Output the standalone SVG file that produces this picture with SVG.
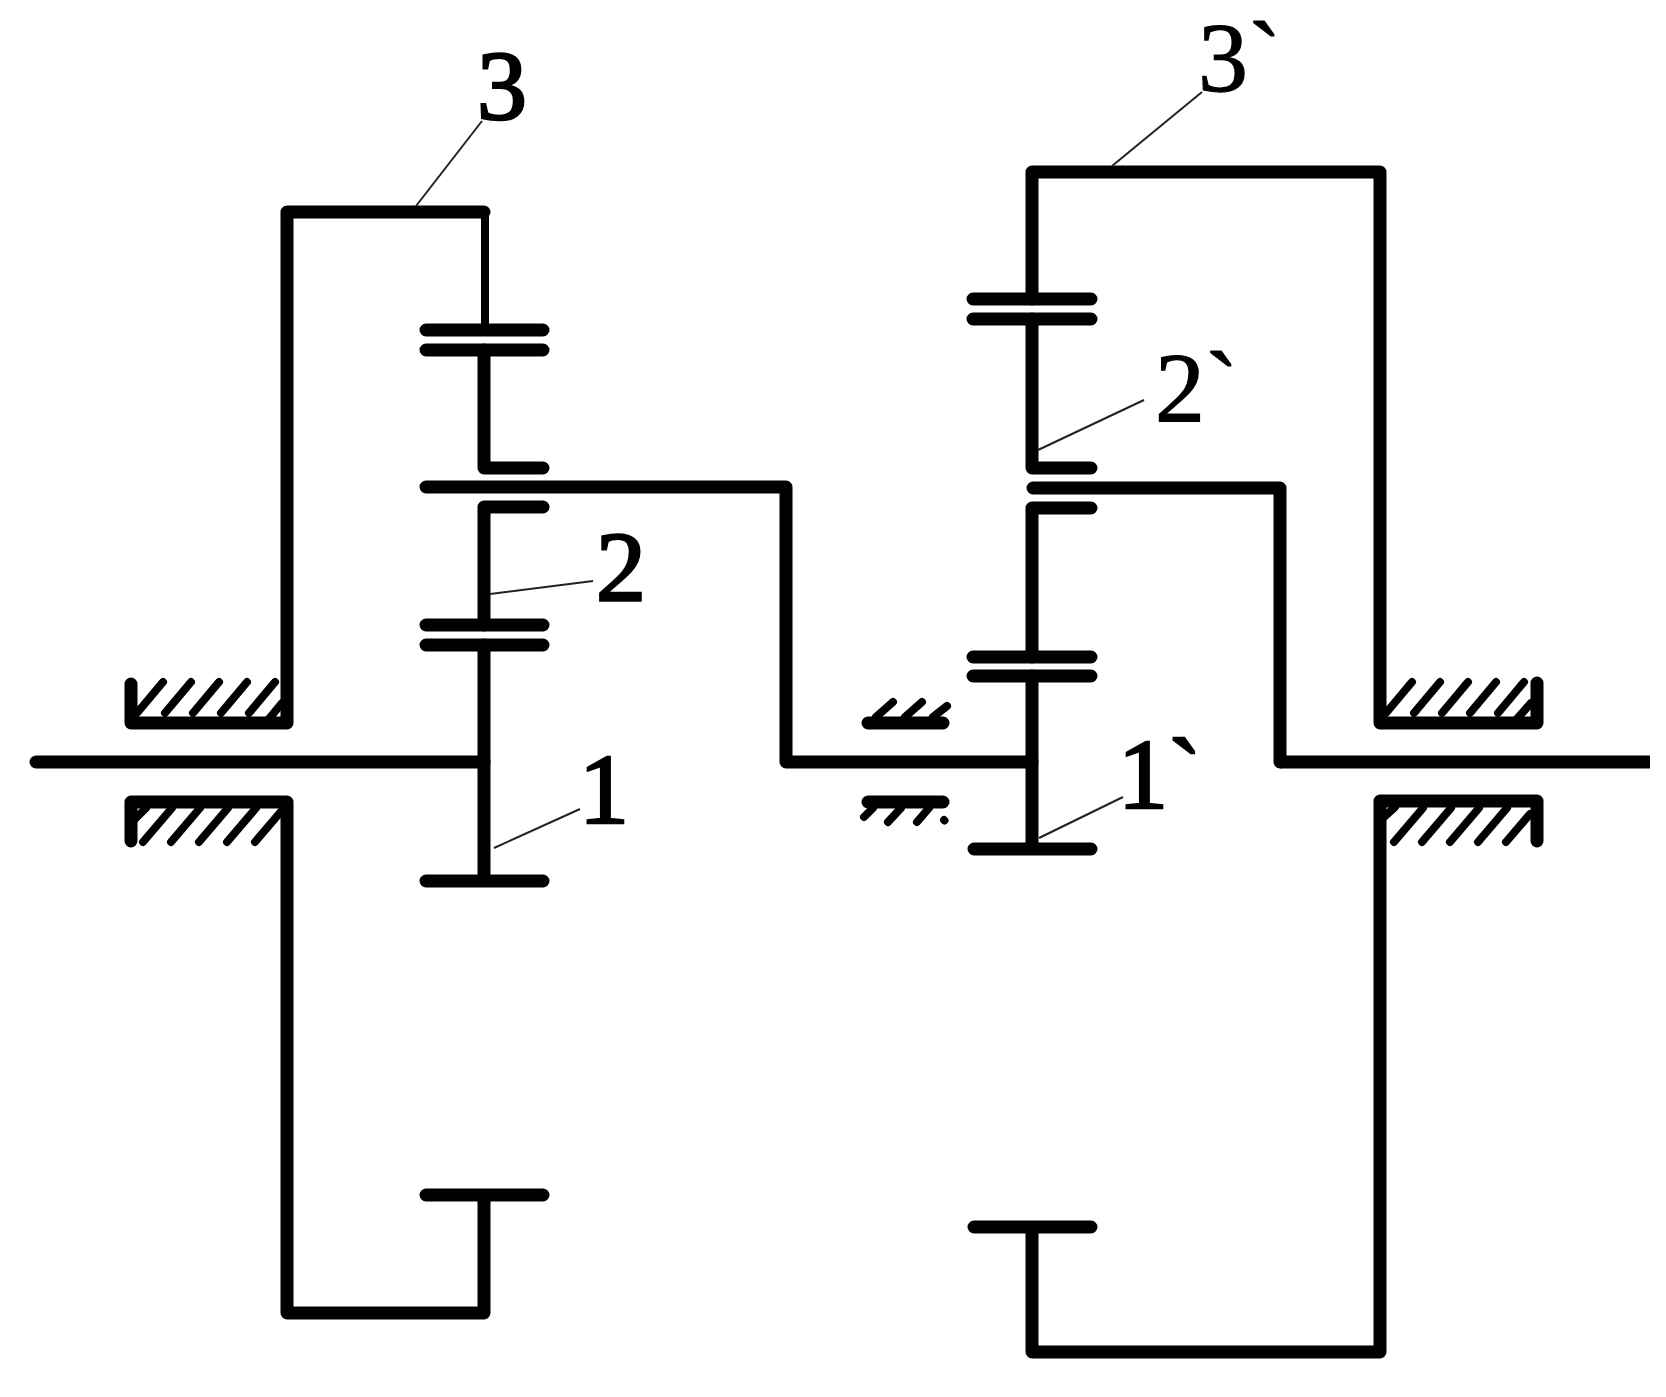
<svg xmlns="http://www.w3.org/2000/svg" width="1666" height="1397" viewBox="0 0 1666 1397">
<style>
.s{fill:none;stroke:#000;stroke-width:13;stroke-linecap:round;stroke-linejoin:round}
.b{fill:none;stroke:#000;stroke-width:13;stroke-linecap:butt}
.t{fill:none;stroke:#000;stroke-width:8;stroke-linecap:round}
.h{fill:none;stroke:#000;stroke-width:8;stroke-linecap:round}
.l{fill:none;stroke:#222;stroke-width:2}
text{font-family:"Liberation Serif","Times New Roman",serif;font-size:100px;fill:#000;stroke:#000}
.bold{stroke-width:2.6}
.light{stroke-width:1.2}
</style>
<rect width="1666" height="1397" fill="#fff"/>
<g id="left-gearset">
<path class="s" d="M484 212H287V723H131V684"/>
<path class="t" d="M485 212V325"/>
<path class="s" d="M426 330H543M426 350H543"/>
<path class="s" d="M484 350V468H543"/>
<path class="s" d="M426 487H786V762H1032"/>
<path class="s" d="M543 507H484V625M484 645V881M426 881H543"/>
<path class="s" d="M426 625H543M426 645H543"/>
<path class="s" d="M36 762H484"/>
<path class="s" d="M131 841V802H287V1313H484V1195M426 1195H543"/>
<path class="h" d="M137 713L163 682M165 713L191 682M193 713L219 682M221 713L247 682M249 713L275 682M268 720L282 703"/>
<path class="h" d="M134 820L146 808M143 842L172 808M171 842L200 808M199 842L228 808M227 842L256 808M255 842L284 808"/>
</g>
<g id="middle-bearing">
<path class="s" d="M868 723H943M868 802H943"/>
<path class="h" d="M876 717L893 702M905 717L922 702M933 717L947 706"/>
<path class="h" d="M864 817L873 808M888 822L901 808M917 822L929 808M944 820L944.5 820.5"/>
</g>
<g id="right-gearset">
<path class="s" d="M1032 299V172H1380V723H1537V683"/>
<path class="s" d="M973 299H1091M973 319H1091"/>
<path class="s" d="M1032 319V468H1091"/>
<path class="s" d="M1033 488H1280V762"/>
<path class="b" d="M1280 762H1650"/>
<path class="s" d="M1091 508H1032V657M1032 676V849M974 849H1091"/>
<path class="s" d="M973 657H1091M973 676H1091"/>
<path class="s" d="M1537 841V801H1380V1352H1032V1227M974 1227H1091"/>
<path class="h" d="M1386 713L1412 682M1414 713L1440 682M1442 713L1468 682M1470 713L1496 682M1498 713L1524 682M1516 720L1531 703"/>
<path class="h" d="M1384 817L1395 807M1394 842L1423 808M1422 842L1451 808M1450 842L1479 808M1478 842L1507 808M1506 842L1530 814"/>
</g>
<g id="connectors">
<path class="l" d="M482 121L416 206"/>
<path class="l" d="M1202 92L1112 166"/>
<path class="l" d="M1144 400L1038 450"/>
<path class="l" d="M593 581L490 594"/>
<path class="l" d="M580 809L494 848"/>
<path class="l" d="M1123 797L1039 838"/>
</g>
<g id="labels">
<text class="bold" x="477" y="119">3</text>
<text class="light" x="1198" y="91">3`</text>
<text class="light" x="1155" y="421">2`</text>
<text class="bold" x="596" y="600">2</text>
<text class="bold" x="579" y="823">1</text>
<text class="bold" x="1118" y="808">1`</text>
</g>
</svg>
